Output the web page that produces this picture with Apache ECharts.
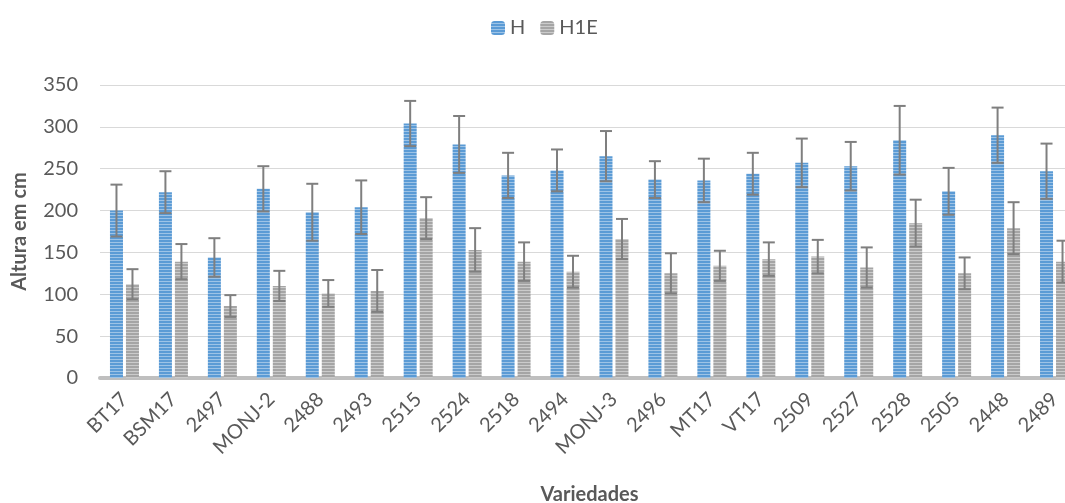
<!DOCTYPE html>
<html>
<head>
<meta charset="utf-8">
<script src="https://cdn.jsdelivr.net/npm/echarts@6/dist/echarts.min.js"></script>
<style>
html,body{margin:0;padding:0;background:#fff;}
#chart{width:1065px;height:503px;}
</style>
</head>
<body>
<div id="chart"></div>
<script>
const categories = ['BT17','BSM17','2497','MONJ-2','2488','2493','2515','2524','2518','2494','MONJ-3','2496','MT17','VT17','2509','2527','2528','2505','2448','2489'];
const seriesNames = ['H','H1E'];
const valuesH   = [200,222,144,226,198,204,304,279,242,248,265,237,236,244,257,253,284,223,290,247];
const errorsH   = [31,25,23,27,34,32,27,34,27,25,30,22,26,25,29,29,41,28,33,33];
const valuesH1E = [112,139,86,110,101,104,191,153,139,127,166,125,134,142,145,132,185,125,179,139];
const errorsH1E = [18,21,13,18,16,25,25,26,23,19,24,24,18,20,20,24,28,19,31,25];
const yTicks = [0,50,100,150,200,250,300,350];

function stripe(dark, light){
  const c = document.createElement('canvas');
  c.width = 4; c.height = 3;
  const ctx = c.getContext('2d');
  ctx.fillStyle = dark; ctx.fillRect(0,0,4,2);
  ctx.fillStyle = light; ctx.fillRect(0,2,4,1);
  return {image: c, repeat: 'repeat'};
}
const blueFill = stripe('#5b9bd5', '#9dc3e6');
const grayFill = stripe('#a5a5a5', '#cbcbcb');

const BAR_W = 13, BAR_GAP = 3;
const FONT = 'Lato, "Open Sans", sans-serif';
const TXT = '#595959';

function errSeries(vals, errs, dir){
  return {
    type: 'custom',
    name: 'err' + dir,
    silent: true,
    z: 5,
    data: vals.map((v,i)=>[i, v, errs[i]]),
    renderItem: function(params, api){
      const i = api.value(0), v = api.value(1), e = api.value(2);
      const off = dir * (BAR_W + BAR_GAP) / 2;
      const top = api.coord([i, v + e]);
      const bot = api.coord([i, v - e]);
      const x = top[0] + off;
      const cap = 6;
      const st = {stroke: '#7f7f7f', lineWidth: 2};
      return {type: 'group', children: [
        {type: 'line', shape: {x1: x, y1: top[1], x2: x, y2: bot[1]}, style: st},
        {type: 'line', shape: {x1: x-cap, y1: top[1], x2: x+cap, y2: top[1]}, style: st},
        {type: 'line', shape: {x1: x-cap, y1: bot[1], x2: x+cap, y2: bot[1]}, style: st}
      ]};
    }
  };
}

const chart = echarts.init(document.getElementById('chart'), null, {renderer: 'canvas'});
chart.setOption({
  animation: false,
  backgroundColor: '#fff',
  textStyle: {fontFamily: FONT},
  legend: {
    data: seriesNames,
    top: 13,
    left: 486,
    itemWidth: 14,
    itemHeight: 14,
    itemGap: 15,
    textStyle: {fontSize: 20, color: TXT, fontFamily: FONT}
  },
  grid: {left: 100, right: -14, top: 85, bottom: 125, containLabel: false, outerBoundsMode: 'none'},
  xAxis: {
    type: 'category',
    data: categories,
    name: 'Variedades',
    nameLocation: 'middle',
    nameGap: 107,
    nameTextStyle: {fontSize: 20, fontWeight: 'bold', color: TXT, fontFamily: FONT},
    axisLine: {show: true, lineStyle: {color: '#bfbfbf', width: 4}},
    axisTick: {show: false},
    axisLabel: {rotate: 45, fontSize: 20, color: TXT, margin: 18, fontFamily: FONT, interval: 0}
  },
  yAxis: {
    type: 'value',
    min: 0, max: 350, interval: 50,
    name: 'Altura em cm',
    nameLocation: 'middle',
    nameGap: 70,
    nameTextStyle: {fontSize: 20, fontWeight: 'bold', color: TXT, fontFamily: FONT},
    axisLine: {show: false},
    axisTick: {show: false},
    axisLabel: {fontSize: 20, color: TXT, margin: 22, fontFamily: FONT,
      formatter: v => yTicks.includes(v) ? String(v) : ''},
    splitLine: {lineStyle: {color: '#d9d9d9', width: 1}}
  },
  series: [
    {name: seriesNames[0], type: 'bar', data: valuesH, barWidth: BAR_W, barGap: (BAR_GAP/BAR_W*100)+'%',
      itemStyle: {color: blueFill}},
    {name: seriesNames[1], type: 'bar', data: valuesH1E, barWidth: BAR_W,
      itemStyle: {color: grayFill}},
    errSeries(valuesH, errorsH, -1),
    errSeries(valuesH1E, errorsH1E, 1)
  ]
});
</script>
</body>
</html>
